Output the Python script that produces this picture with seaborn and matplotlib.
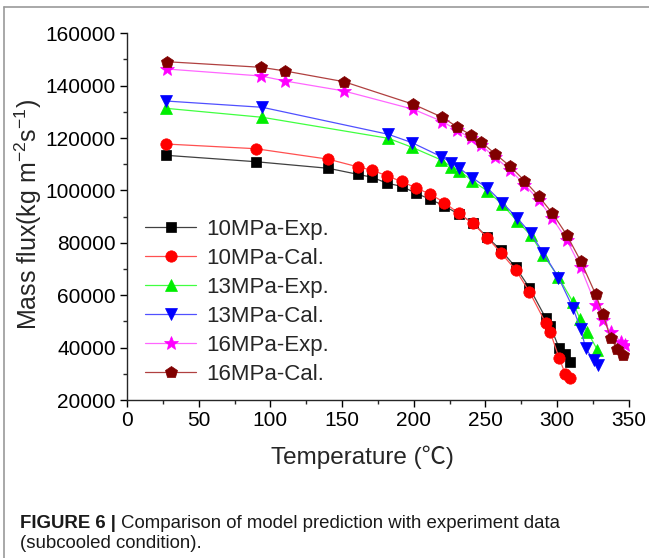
import matplotlib
matplotlib.use("Agg")
import matplotlib.pyplot as plt
import seaborn as sns
from matplotlib.lines import Line2D
from matplotlib.ticker import MultipleLocator

# ---------------- data ----------------
labels = ["10MPa-Exp.", "10MPa-Cal.", "13MPa-Exp.", "13MPa-Cal.", "16MPa-Exp.", "16MPa-Cal."]

t10 = [27.2, 89.8, 140.5, 160.9, 171.1, 181.6, 191.6, 201.7, 211.6, 221.4, 231.3,
       241.2, 251.4, 260.8, 271.2, 280.7, 292.2, 295.2, 301.5, 305.8, 309.1]
exp10 = [113420, 110980, 108460, 106170, 105020, 102730, 101580, 98910, 96620, 94060, 91010,
         87690, 82110, 77260, 70660, 62870, 51190, 48360, 39730, 37560, 34620]
cal10 = [117730, 115940, 111930, 109030, 107730, 105520, 103420, 100940, 98570, 95400, 91280,
         87460, 81960, 76230, 69630, 61340, 49280, 46070, 35910, 29920, 28280]

t13_exp = [27.2, 94.4, 182.3, 198.9, 219.3, 226.1, 231.7, 240.9, 251.4, 261.7, 271.9,
           281.6, 290.5, 301.0, 311.0, 316.1, 321.2, 328.2]
exp13 = [131360, 127930, 119910, 116470, 111630, 109070, 107540, 103720, 99790, 94710, 88450,
         82990, 75350, 66960, 57520, 50810, 46070, 39080]
t13_cal = [27.2, 94.4, 182.3, 198.9, 219.3, 226.1, 231.7, 240.9, 251.4, 261.7, 271.9,
           281.6, 290.5, 301.0, 311.0, 316.5, 320.0, 325.5, 328.9]
cal13 = [134150, 131750, 121440, 118230, 112890, 110670, 108570, 104830, 100940, 95400, 89670,
         83640, 76120, 66760, 55310, 47180, 39730, 35270, 33550]

t16_exp = [27.6, 93.5, 110.3, 151.4, 199.8, 220.0, 230.1, 239.9, 246.8, 256.8, 266.9,
           277.3, 287.2, 296.8, 306.8, 316.5, 326.9, 332.0, 337.4, 344.4, 347.5]
exp16 = [146370, 143700, 141790, 137970, 130980, 126320, 123080, 119910, 117350, 112660, 108000,
         102270, 96360, 89370, 81080, 70660, 56460, 50420, 45880, 42330, 41180]
t16_cal = [27.6, 93.5, 110.3, 151.4, 199.8, 220.0, 230.1, 239.9, 246.8, 256.8, 266.9,
           277.3, 287.2, 296.8, 306.8, 316.5, 326.9, 332.0, 337.4, 342.1, 345.8]
cal16 = [149160, 147020, 145610, 141520, 132890, 127930, 124340, 121170, 118610, 113990, 109410,
         103720, 97770, 91280, 82990, 73060, 60390, 52830, 43550, 39470, 37360]

x_ticks = [0, 50, 100, 150, 200, 250, 300, 350]
y_ticks = [20000, 40000, 60000, 80000, 100000, 120000, 140000, 160000]

# ---------------- style ----------------
sns.set_style("ticks")
plt.rcParams['font.family'] = ['Liberation Sans', 'Noto Sans CJK SC', 'DejaVu Sans']
plt.rcParams['mathtext.fontset'] = 'custom'
plt.rcParams['mathtext.rm'] = 'Liberation Sans'
plt.rcParams['mathtext.it'] = 'Liberation Sans:italic'
plt.rcParams['axes.linewidth'] = 1.0

W, H = 649, 558
fig = plt.figure(figsize=(W / 100, H / 100), dpi=100)
ax = fig.add_axes([127 / W, 1 - 400 / H, (628.7 - 127) / W, (400 - 33.3) / H])

series = [
    (t10, exp10, 's', '#000000', '#404040', 7.2),
    (t10, cal10, 'o', '#ff0000', '#ff5050', 8.2),
    (t13_exp, exp13, '^', '#00ee00', '#40ff40', 8.8),
    (t13_cal, cal13, 'v', '#0000ff', '#5050ff', 8.8),
    (t16_exp, exp16, '*', '#ff00ff', '#ff66ff', 10.5),
    (t16_cal, cal16, 'p', '#800000', '#b04040', 8.8),
]

for (t, y, m, mc, lc, ms), lab in zip(series, labels):
    sns.lineplot(x=t, y=y, ax=ax, sort=False, estimator=None, errorbar=None,
                 color=lc, linewidth=0.9, marker=m, markersize=ms,
                 markerfacecolor=mc, markeredgecolor=mc, markeredgewidth=0.5)

ax.set_xlim(0, 350)
ax.set_ylim(20000, 160000)
ax.set_xticks(x_ticks)
ax.set_yticks(y_ticks)
ax.set_xticklabels([str(v) for v in x_ticks])
ax.set_yticklabels([str(v) for v in y_ticks])
ax.xaxis.set_minor_locator(MultipleLocator(25))
ax.yaxis.set_minor_locator(MultipleLocator(10000))
ax.tick_params(which='major', direction='out', length=5, width=1.0, labelsize=15, pad=3, colors='black')
ax.tick_params(which='minor', direction='out', length=2.8, width=1.0)
sns.despine(ax=ax)
ax.grid(False)

ax.set_xlabel("Temperature (℃)", fontsize=17.5)
ax.xaxis.set_label_coords(0.47, -0.125)
ax.set_ylabel("Mass flux(kg m$^{-2}$s$^{-1}$)", fontsize=18)
ax.yaxis.set_label_coords(-0.165, 0.505)

handles = ax.get_lines()[:6]
ax.legend(handles=handles, labels=labels, loc='upper left',
          bbox_to_anchor=(145 / W, 1 - 219 / H), bbox_transform=fig.transFigure,
          frameon=False, fontsize=16, handlelength=2.3, handletextpad=0.45,
          labelspacing=0.36, borderpad=0, borderaxespad=0)

# caption
cap_y = 1 - 523 / H
t1 = fig.text(20 / W, cap_y, "FIGURE 6 |", fontsize=13.4, fontweight='bold',
              va='center', ha='left', color='#1a1a1a')
fig.canvas.draw()
bb = t1.get_window_extent(renderer=fig.canvas.get_renderer())
x2 = (bb.x1 + 5) / W
fig.text(x2, cap_y, "Comparison of model prediction with experiment data", fontsize=13.4,
         va='center', ha='left', color='#1a1a1a')
fig.text(20 / W, 1 - 544 / H, "(subcooled condition).", fontsize=13.4,
         va='center', ha='left', color='#1a1a1a')

# frame lines of the figure panel
fig.add_artist(Line2D([4 / W, 4 / W], [0, 1 - 7 / H], transform=fig.transFigure,
                      color='#9a9a9a', linewidth=1.2))
fig.add_artist(Line2D([4 / W, 1], [1 - 7 / H, 1 - 7 / H], transform=fig.transFigure,
                      color='#9a9a9a', linewidth=1.2))

fig.savefig("out.png", dpi=100)
